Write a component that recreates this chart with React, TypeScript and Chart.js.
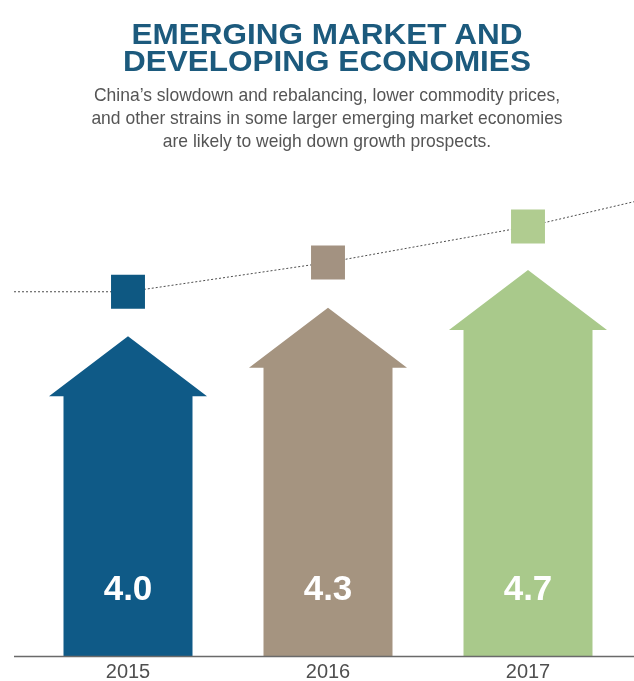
import React, { useEffect, useRef } from "react";
import { Chart, registerables } from "chart.js";

Chart.register(...registerables);

// ---- data ----
const years = ["2015", "2016", "2017"];
const growth = [4.0, 4.3, 4.7];
const markerLevels = [4.47, 4.78, 5.16];
const arrowColors = ["#0f5a87", "#a59480", "#a9c98b"];
const markerColors = ["#0e5882", "#a39281", "#b0cc90"];

const titleLines = ["EMERGING MARKET AND", "DEVELOPING ECONOMIES"];
const subtitleLines = [
  "China\u2019s slowdown and rebalancing, lower commodity prices,",
  "and other strains in some larger emerging market economies",
  "are likely to weigh down growth prospects.",
];

const LINE_COLOR = "#4d4d4d";

const arrowPlugin = {
  id: "arrowsAndMarks",
  beforeDatasetDraw(chart: any, args: any) {
    const ctx = chart.ctx as CanvasRenderingContext2D;
    if (args.index === 0) {
      const meta = chart.getDatasetMeta(0);
      const bottom = chart.chartArea.bottom;
      meta.data.forEach((bar: any, i: number) => {
        const { x, y, width } = bar.getProps(["x", "y", "width"], true);
        const half = width / 2;
        const headHalf = half * 1.225;
        const headH = 60;
        const sy = y + headH;
        ctx.save();
        ctx.fillStyle = arrowColors[i];
        ctx.beginPath();
        ctx.moveTo(x - half, bottom);
        ctx.lineTo(x - half, sy);
        ctx.lineTo(x - headHalf, sy);
        ctx.lineTo(x, y);
        ctx.lineTo(x + headHalf, sy);
        ctx.lineTo(x + half, sy);
        ctx.lineTo(x + half, bottom);
        ctx.closePath();
        ctx.fill();
        ctx.restore();
      });
      return false;
    }
    if (args.index === 1) {
      const pts = chart.getDatasetMeta(1).data;
      const p0 = pts[0];
      const pn = pts[pts.length - 1];
      const pm = pts[pts.length - 2];
      const slope = ((pn.y - pm.y) / (pn.x - pm.x)) * 1.3;
      ctx.save();
      ctx.setLineDash([2, 2]);
      ctx.strokeStyle = LINE_COLOR;
      ctx.lineWidth = 1;
      ctx.beginPath();
      ctx.moveTo(14, p0.y);
      ctx.lineTo(p0.x, p0.y);
      ctx.moveTo(pn.x, pn.y);
      ctx.lineTo(chart.width, pn.y + slope * (chart.width - pn.x));
      ctx.stroke();
      ctx.restore();
    }
    return undefined;
  },
  afterDatasetsDraw(chart: any) {
    const ctx = chart.ctx as CanvasRenderingContext2D;
    const meta = chart.getDatasetMeta(0);
    const bottom = chart.chartArea.bottom;
    ctx.save();
    ctx.font = "bold 35px 'Liberation Sans', Arial, sans-serif";
    ctx.fillStyle = "#ffffff";
    ctx.textAlign = "center";
    ctx.textBaseline = "middle";
    meta.data.forEach((bar: any, i: number) => {
      ctx.fillText(growth[i].toFixed(1), bar.x, bottom - 66);
    });
    const yb = bottom + 0.5;
    ctx.strokeStyle = "#6a6a6a";
    ctx.lineWidth = 1.5;
    ctx.beginPath();
    ctx.moveTo(14, yb);
    ctx.lineTo(chart.width, yb);
    ctx.stroke();
    ctx.restore();
  },
};

export default function App() {
  const canvasRef = useRef<HTMLCanvasElement | null>(null);

  useEffect(() => {
    if (!canvasRef.current) return;
    const chart = new Chart(canvasRef.current, {
      type: "bar",
      data: {
        labels: years,
        datasets: [
          {
            type: "bar",
            data: growth,
            backgroundColor: arrowColors,
            barPercentage: 0.645,
            categoryPercentage: 1.0,
            order: 2,
          } as any,
          {
            type: "line",
            data: markerLevels,
            borderColor: LINE_COLOR,
            borderWidth: 1,
            borderDash: [2, 2],
            pointStyle: "rect",
            pointRadius: 24,
            pointHoverRadius: 24,
            pointBackgroundColor: markerColors,
            pointBorderWidth: 0,
            fill: false,
            tension: 0,
            order: 1,
            clip: false,
          } as any,
        ],
      },
      options: {
        responsive: false,
        animation: false,
        devicePixelRatio: 1,
        layout: { autoPadding: false, padding: { left: 28, right: 6, top: 147, bottom: 0 } },
        plugins: {
          legend: { display: false },
          tooltip: { enabled: false },
          title: { display: false },
        },
        events: [],
        scales: {
          x: {
            offset: true,
            grid: { display: false, drawTicks: false },
            border: { display: false },
            ticks: {
              color: "#4f4f4f",
              padding: 4,
              font: {
                family: "'Liberation Sans Narrow', 'Liberation Sans', Arial, sans-serif",
                size: 20,
                lineHeight: 1.2,
              },
            },
          },
          y: { display: false, min: 0.62, max: 6 },
        },
      } as any,
      plugins: [arrowPlugin],
    });
    return () => chart.destroy();
  }, []);

  return (
    <div
      style={{
        position: "fixed",
        left: 0,
        top: 0,
        width: 634,
        height: 681,
        overflow: "hidden",
        background: "#ffffff",
      }}
    >
      <canvas
        ref={canvasRef}
        width={634}
        height={688}
        style={{ position: "absolute", left: 0, top: 0, width: 634, height: 688 }}
      />
      <div
        style={{
          position: "absolute",
          left: 0,
          top: 20,
          width: 654,
          textAlign: "center",
          fontFamily: "'Liberation Sans', Arial, sans-serif",
          fontWeight: 700,
          fontSize: 30,
          lineHeight: "27px",
          color: "#1c5a7d",
          transform: "scaleX(1.05)",
          whiteSpace: "nowrap",
        }}
      >
        {titleLines.map((t) => (
          <div key={t}>{t}</div>
        ))}
      </div>
      <div
        style={{
          position: "absolute",
          left: 0,
          top: 83,
          width: 654,
          textAlign: "center",
          fontFamily: "'Liberation Sans', Arial, sans-serif",
          fontSize: 19,
          lineHeight: "23px",
          color: "#555555",
          transform: "scaleX(0.92)",
          whiteSpace: "nowrap",
        }}
      >
        {subtitleLines.map((t) => (
          <div key={t}>{t}</div>
        ))}
      </div>
    </div>
  );
}
